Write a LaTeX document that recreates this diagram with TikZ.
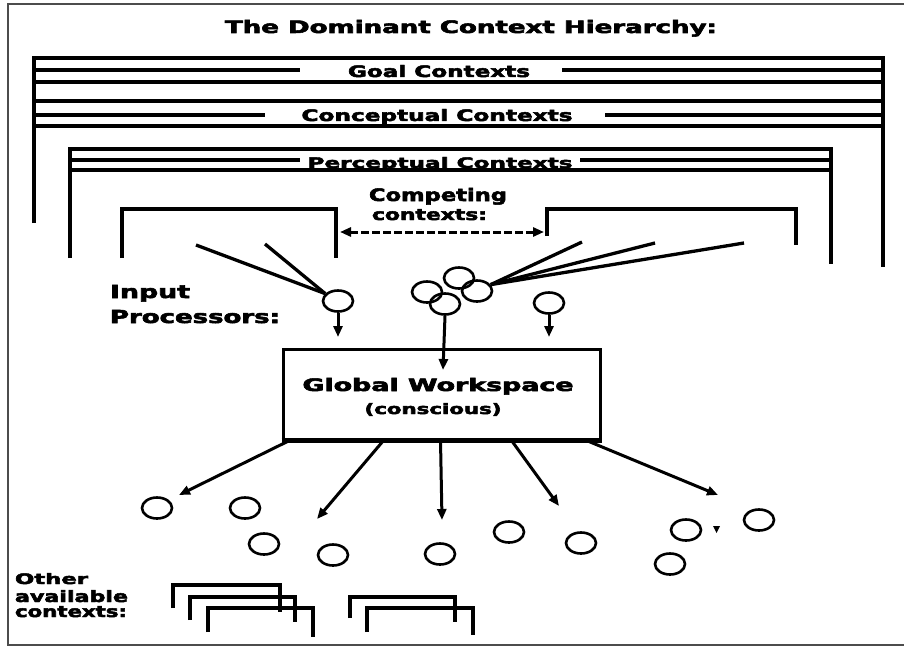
\documentclass[tikz,border=0pt]{standalone}
\usepackage{fontspec}
\usepackage{graphicx}
\usetikzlibrary{arrows.meta,shapes.geometric}
\newfontfamily\lbl{DejaVu Sans Bold}[FakeBold=3]
% heavy label text squeezed to a given width and height (in pt)
\newcommand{\fitlabel}[3]{\resizebox{#1pt}{#2pt}{\lbl #3}}

\tikzset{
  ctxbracket/.style={line width=4.5pt, line join=miter},
  ctxrule/.style={line width=3.5pt},
  smallbracket/.style={line width=4pt, line join=miter},
  feedline/.style={line width=3.3pt},
  flow/.style={line width=3pt, -{Triangle[length=11pt,width=9pt]}},
  rivalry/.style={line width=3pt, dashed, dash pattern=on 8pt off 3pt,
    {Triangle[length=11pt,width=9pt]}-{Triangle[length=11pt,width=9pt]}},
  unit/.style={ellipse, draw, line width=2.6pt, minimum width=30pt,
    minimum height=21pt, inner sep=0pt},
  txt/.style={inner sep=0pt, outer sep=0pt},
  wsbox/.style={draw, line width=3pt, minimum width=317pt,
    minimum height=90pt, inner sep=0pt}
}

\begin{document}
\begin{tikzpicture}[x=1pt,y=-1pt]
\useasboundingbox (0,0) rectangle (904,647);
\fill[white] (0,0) rectangle (904,647);

% frame
\draw[line width=1.3pt, black!70] (904,4) -- (8,4) -- (8,645) -- (904,645);

% title
\node[txt, anchor=base] (title) at (471,33) {\fitlabel{492}{13}{The Dominant Context Hierarchy:}};

% goal contexts
\draw[ctxbracket] (34,223) -- (34,58) -- (883,58) -- (883,267);
\draw[ctxrule] (34,70) -- (300,70) (562,70) -- (883,70);
\draw[ctxrule] (34,82) -- (883,82);
\node[txt, anchor=base] (goal) at (439,77) {\fitlabel{182}{12}{Goal Contexts}};

% conceptual contexts
\draw[ctxrule] (34,101) -- (883,101);
\draw[ctxrule] (34,115) -- (265,115) (605,115) -- (883,115);
\draw[ctxrule] (34,126) -- (883,126);
\node[txt, anchor=base] (concept) at (437,121) {\fitlabel{271}{12}{Conceptual Contexts}};

% perceptual contexts
\draw[ctxbracket] (70,258) -- (70,149) -- (831,149) -- (831,264);
\draw[ctxrule] (70,160) -- (300,160) (580,160) -- (831,160);
\draw[ctxrule] (70,170) -- (831,170);
\node[txt, anchor=base] (percept) at (440,168) {\fitlabel{265}{11}{Perceptual Contexts}};

% competing contexts
\draw[ctxbracket] (122,258) -- (122,209) -- (336,209) -- (336,258);
\draw[ctxbracket] (547,236) -- (547,209) -- (796,209) -- (796,245);
\node[txt, anchor=base west] (comp1) at (369,201) {\fitlabel{138}{13}{Competing}};
\node[txt, anchor=base west] (comp2) at (372,220) {\fitlabel{115}{11}{contexts:}};
\coordinate (cl) at (340,232);
\coordinate (cr) at (544,232);
\draw[rivalry] (cl) -- (cr);

% input processors
\node[txt, anchor=base west] (in1) at (110,298) {\fitlabel{80}{13}{Input}};
\node[txt, anchor=base west] (in2) at (110,323) {\fitlabel{170}{13}{Processors:}};

\node[unit] (lp) at (338,301) {};
\node[unit] (rp) at (549,303) {};
\node[unit] (cd) at (445,304) {};
\node[unit] (ca) at (427,292) {};
\node[unit] (cb) at (459,278) {};
\node[unit] (cc) at (477,291) {};

\coordinate (f1) at (196,245);
\coordinate (f2) at (265,244);
\draw[feedline] (f1) -- (lp.150);
\draw[feedline] (f2) -- (lp.150);

\coordinate (g1) at (582,242);
\coordinate (g2) at (655,243);
\coordinate (g3) at (744,243);
\draw[feedline] (g1) -- (cc.25);
\draw[feedline] (g2) -- (cc.25);
\draw[feedline] (g3) -- (cc.25);

% global workspace
\node[wsbox] (gw) at (441.5,394) {};
\draw[line width=5pt] (gw.south west) -- (gw.south east);
\node[txt, anchor=base] (gwt) at (438,391) {\fitlabel{271}{13}{Global Workspace}};
\node[txt, anchor=base] (gwc) at (433,414) {\fitlabel{137}{11}{(conscious)}};

\coordinate (lpt) at (338,337);
\coordinate (rpt) at (549,337);
\coordinate (cdt) at (443,370);
\draw[flow] (lp.south) -- (lpt);
\draw[flow] (rp.south) -- (rpt);
\draw[flow] (cd.south) -- (cdt);

% broadcast to specialised processors
\coordinate (t1) at (179,495);
\coordinate (t2) at (317,519);
\coordinate (t3) at (442,520);
\coordinate (t4) at (559,506);
\coordinate (t5) at (718,495);
\draw[flow] ([xshift=8pt]gw.south west) -- (t1);
\draw[flow] ([xshift=102pt]gw.south west) -- (t2);
\draw[flow] ([xshift=159pt]gw.south west) -- (t3);
\draw[flow] ([xshift=230pt]gw.south west) -- (t4);
\draw[flow] ([xshift=305pt]gw.south west) -- (t5);

\node[unit] (o1) at (157,508) {};
\node[unit] (o2) at (245,508) {};
\node[unit] (o3) at (264,544) {};
\node[unit] (o4) at (333,555) {};
\node[unit] (o5) at (440,554) {};
\node[unit] (o6) at (509,532) {};
\node[unit] (o7) at (581,543) {};
\node[unit] (o8) at (686,530) {};
\node[unit] (o9) at (759,520) {};
\node[unit] (o10) at (670,564) {};
\fill (713,526) -- (720,526) -- (716.5,533) -- cycle;

% other available contexts
\node[txt, anchor=base west] (oth1) at (15,584) {\fitlabel{73}{11}{Other}};
\node[txt, anchor=base west] (oth2) at (15,602) {\fitlabel{113}{12}{available}};
\node[txt, anchor=base west] (oth3) at (15,617) {\fitlabel{112}{11}{contexts:}};

\draw[smallbracket] (173,608) -- (173,585) -- (280,585) -- (280,612);
\draw[smallbracket] (190,620) -- (190,597) -- (295,597) -- (295,622);
\draw[smallbracket] (208,632) -- (208,608) -- (313,608) -- (313,637);
\draw[smallbracket] (350,618) -- (350,597) -- (455,597) -- (455,622);
\draw[smallbracket] (367,632) -- (367,608) -- (473,608) -- (473,635);
\end{tikzpicture}
\end{document}
